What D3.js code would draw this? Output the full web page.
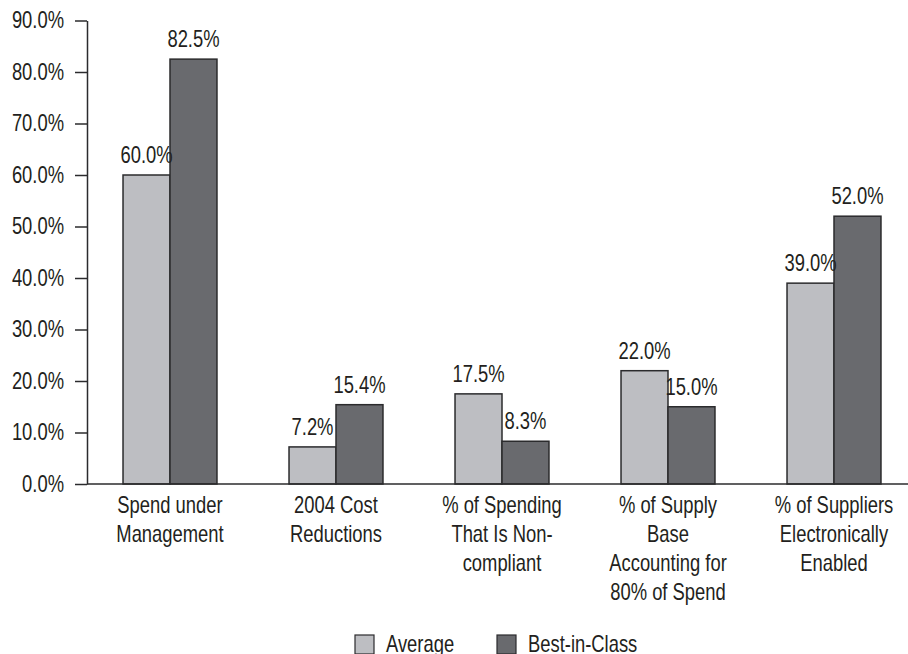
<!DOCTYPE html>
<html>
<head>
<meta charset="utf-8">
<script src="https://cdn.jsdelivr.net/npm/d3@7"></script>
<style>
  html, body { margin: 0; padding: 0; background: #fff; }
  svg text { font-family: "Liberation Sans", Arial, sans-serif; fill: #231f20; }
</style>
</head>
<body>
<svg id="chart" width="908" height="654"></svg>
<script>
// Category labels, one line per array entry
const categories = [
  ["Spend under", "Management"],
  ["2004 Cost", "Reductions"],
  ["% of Spending", "That Is Non-", "compliant"],
  ["% of Supply", "Base", "Accounting for", "80% of Spend"],
  ["% of Suppliers", "Electronically", "Enabled"]
];
const seriesNames = ["Average", "Best-in-Class"];
const averageValues = [0.600, 0.072, 0.175, 0.220, 0.390];
const bestValues    = [0.825, 0.154, 0.083, 0.150, 0.520];
const yTicks = [0, 0.1, 0.2, 0.3, 0.4, 0.5, 0.6, 0.7, 0.8, 0.9];

const colors = { "Average": "#bdbec2", "Best-in-Class": "#696a6e" };
const seriesValues = { "Average": averageValues, "Best-in-Class": bestValues };

const svg = d3.select("#chart");
const plotLeft = 87, plotRight = 917, plotTop = 20.5, plotBottom = 484;
const fontSize = 23;
const narrow = 0.8;   // horizontal squeeze for a condensed typeface look

// Squeeze a text element horizontally about its own anchor point
function condense(sel) {
  sel.attr("transform", function () {
    const x = +this.getAttribute("x") || 0;
    const y = +this.getAttribute("y") || 0;
    return `translate(${x},${y}) scale(${narrow},1) translate(${-x},${-y})`;
  });
}

const x0 = d3.scaleBand()
  .domain(d3.range(categories.length))
  .range([plotLeft, plotRight])
  .paddingInner(0.434)
  .paddingOuter(0.217);
const x1 = d3.scaleBand()
  .domain(seriesNames)
  .range([0, x0.bandwidth()]);
const y = d3.scaleLinear().domain([0, 0.9]).range([plotBottom, plotTop]);

// Bars
const groups = svg.append("g").selectAll("g")
  .data(categories.map((c, i) => i))
  .join("g")
  .attr("transform", i => `translate(${x0(i)},0)`);

groups.selectAll("rect")
  .data(i => seriesNames.map(s => ({ s, v: seriesValues[s][i] })))
  .join("rect")
  .attr("x", d => x1(d.s))
  .attr("y", d => y(d.v))
  .attr("width", x1.bandwidth())
  .attr("height", d => y(0) - y(d.v))
  .attr("fill", d => colors[d.s])
  .attr("stroke", "#2b2b2d")
  .attr("stroke-width", 1.5);

// Value labels
groups.selectAll("text.value")
  .data(i => seriesNames.map(s => ({ s, v: seriesValues[s][i] })))
  .join("text")
  .attr("class", "value")
  .attr("x", d => x1(d.s) + x1.bandwidth() / 2)
  .attr("y", d => y(d.v) - 12)
  .attr("text-anchor", "middle")
  .attr("font-size", fontSize)
  .text(d => d3.format(".1%")(d.v))
  .call(condense);

// Y axis
const yAxis = svg.append("g")
  .attr("transform", `translate(${plotLeft},0)`)
  .call(d3.axisLeft(y).tickValues(yTicks).tickFormat(d3.format(".1%")).tickSize(12).tickPadding(11).tickSizeOuter(0));
yAxis.attr("font-family", null).attr("font-size", null);
yAxis.select(".domain").attr("stroke", "#2b2b2d").attr("stroke-width", 1.5);
yAxis.selectAll(".tick line").attr("stroke", "#2b2b2d").attr("stroke-width", 1.5);
yAxis.selectAll(".tick text")
  .attr("font-size", fontSize)
  .attr("fill", "#231f20")
  .call(condense);

// X axis baseline
svg.append("line")
  .attr("x1", plotLeft).attr("x2", 908)
  .attr("y1", y(0)).attr("y2", y(0))
  .attr("stroke", "#2b2b2d").attr("stroke-width", 1.5);

// Category labels
const catLabels = svg.append("g").selectAll("text")
  .data(categories)
  .join("text")
  .attr("text-anchor", "middle")
  .attr("font-size", fontSize)
  .attr("x", (c, i) => x0(i) + x0.bandwidth() / 2)
  .attr("y", 513);
catLabels.selectAll("tspan")
  .data(c => c)
  .join("tspan")
  .attr("x", function () { return this.parentNode.getAttribute("x"); })
  .attr("dy", (d, j) => j === 0 ? 0 : 29)
  .text(d => d);
catLabels.call(condense);

// Legend
const legendPos = [355, 497];
const legend = svg.append("g").selectAll("g")
  .data(seriesNames)
  .join("g")
  .attr("transform", (d, i) => `translate(${legendPos[i]},635)`);
legend.append("rect")
  .attr("width", 19).attr("height", 19)
  .attr("fill", d => colors[d])
  .attr("stroke", "#2b2b2d").attr("stroke-width", 1.2);
legend.append("text")
  .attr("x", 31).attr("y", 17)
  .attr("font-size", fontSize)
  .text(d => d)
  .call(condense);
</script>
</body>
</html>
